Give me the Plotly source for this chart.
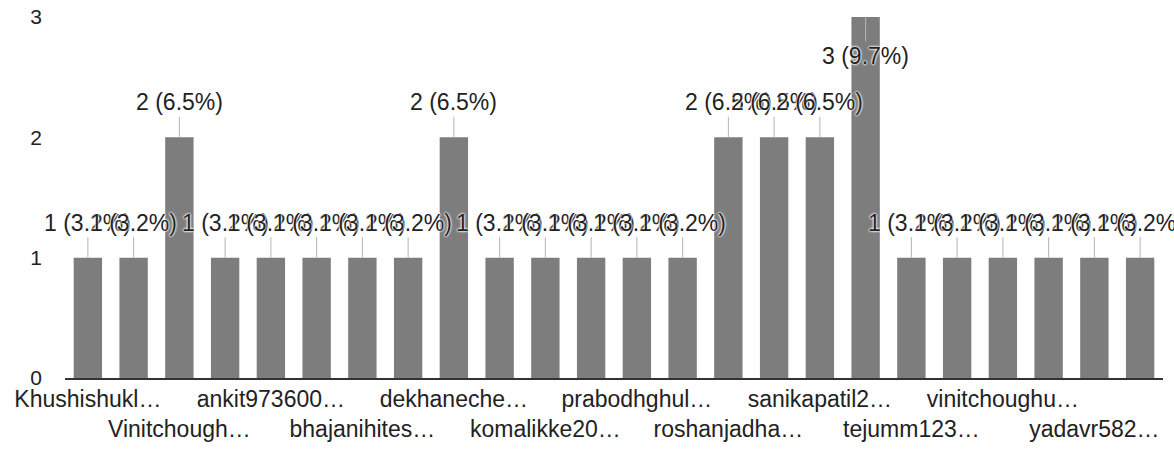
import plotly.graph_objects as go

# ------------------------
# Data
# ------------------------
names = [
    "Khushishukl…", "Pranavpatil…", "Vinitchough…", "aditijadhav…",
    "ankit973600…", "aryanpawar…", "bhajanihites…", "chetanmore…",
    "dekhaneche…", "gauravshind…", "komalikke20…", "nikhilsawan…",
    "prabodhghul…", "pratikshaka…", "roshanjadha…", "rutujapawar…",
    "sanikapatil2…", "shreyasdesa…", "tejumm123…", "tusharkale…",
    "vinitchoughu…", "vishalgaikw…", "yadavr582…", "yashpatil…",
]
counts = [1, 1, 2, 1, 1, 1, 1, 1, 2, 1, 1, 1, 1, 1, 2, 2, 2, 3, 1, 1, 1, 1, 1, 1]
y_ticks = [0, 1, 2, 3]

total = sum(counts)
FONT = "Liberation Sans, Arial, sans-serif"

# only every other category gets a label, staggered on two rows
shown = names[::2]
shown_text = [n if i % 2 == 0 else "<br>" + n for i, n in enumerate(shown)]

# ------------------------
# Figure
# ------------------------
fig = go.Figure()
fig.add_trace(go.Bar(
    x=names,
    y=counts,
    marker_color="#7d7d7d",
    marker_line_width=0,
    hoverinfo="skip",
))

# value labels with a stem, like the forms summary chart
for n, c in zip(names, counts):
    top = c == max(y_ticks)
    fig.add_annotation(
        x=n, y=c,
        text=f"{c} ({c / total * 100:.1f}%)",
        showarrow=True, arrowhead=0, arrowwidth=1, arrowcolor="#b5b5b5",
        ax=0, ay=39 if top else -35,
        font=dict(family=FONT, size=23, color="#222222",
                  shadow="0 0 2px white, 0 0 2px white, 0 0 3px white"),
    )

fig.update_layout(
    width=1174, height=455,
    margin=dict(l=65, r=11, t=17, b=77),
    paper_bgcolor="white",
    plot_bgcolor="white",
    bargap=0.38,
    showlegend=False,
    font=dict(family=FONT, size=21, color="#222222"),
    xaxis=dict(
        range=[-0.5, len(names) - 0.5],
        tickmode="array", tickvals=shown, ticktext=shown_text,
        tickangle=0, showgrid=False, ticks="", automargin=False,
        showline=True, linecolor="#333333", linewidth=1.5,
        tickfont=dict(size=23, color="#222222"),
    ),
    yaxis=dict(
        range=[0, 3], tickvals=y_ticks, showgrid=False, zeroline=False,
        automargin=False, ticklabelstandoff=22,
        tickfont=dict(size=21, color="#222222"),
    ),
)

# drop the default page margin so the figure fills the window
fig.write_html("out.html", config={"displayModeBar": False},
               post_script="document.body.style.margin = '0';")
